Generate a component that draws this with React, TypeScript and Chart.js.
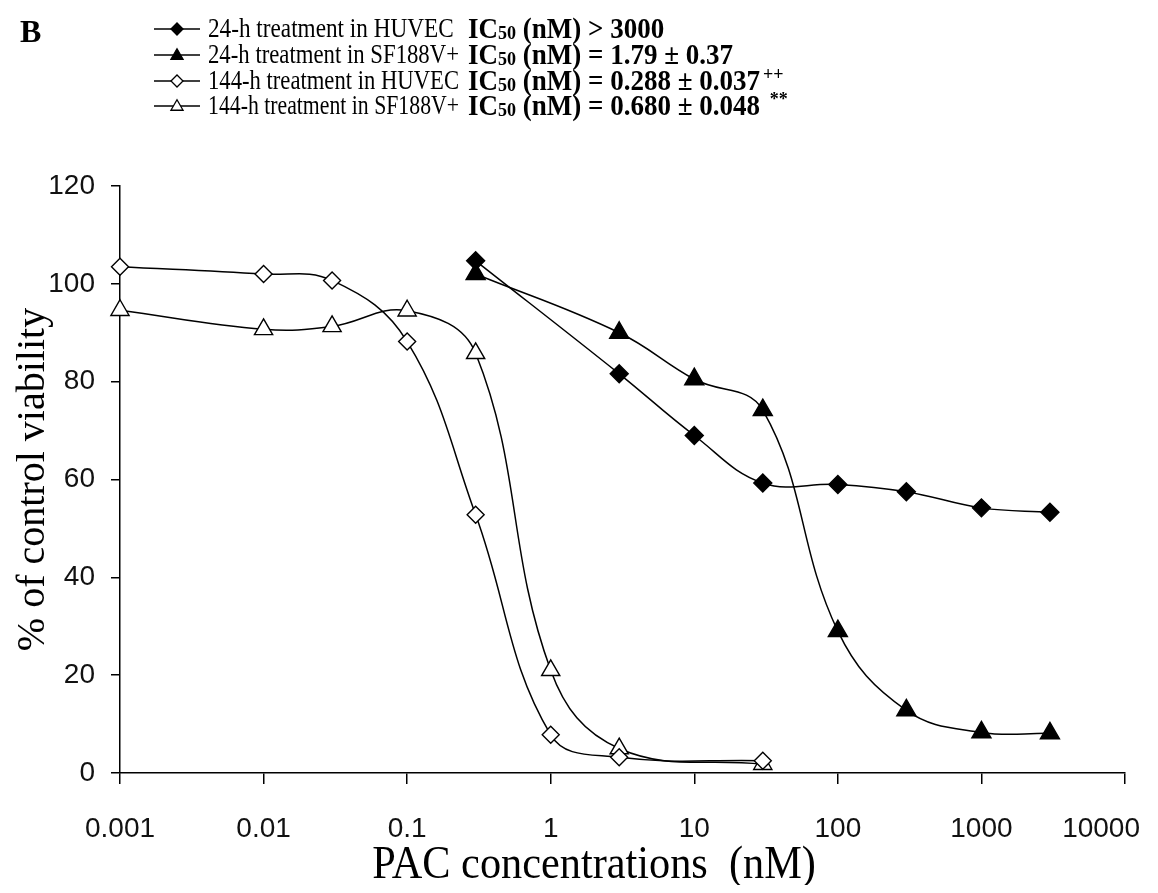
import React, { useEffect, useRef } from 'react';
import { Chart, registerables } from 'chart.js';

Chart.register(...registerables);

// ---- data ----
const conc24h = [0.3, 3, 10, 30, 100, 300, 1000, 3000];
const conc144h = [0.001, 0.01, 0.03, 0.1, 0.3, 1, 3, 30];
const huvec24h = [104.7, 81.6, 69, 59.3, 59, 57.5, 54.2, 53.3];
const sf188_24h = [102, 90, 80.5, 74.2, 29, 12.8, 8.3, 8.1];
const huvec144h = [103.5, 102, 100.7, 88.2, 52.8, 7.8, 3.2, 2.5];
const sf188_144h = [94.6, 90.7, 91.3, 94.5, 85.8, 21, 5, 1.8];

const seriesLabels = [
  '24-h treatment in HUVEC',
  '24-h treatment in SF188V+',
  '144-h treatment in HUVEC',
  '144-h treatment in SF188V+',
];
const ic50Texts = [' (nM) > 3000', ' (nM) = 1.79 \u00b1 0.37', ' (nM) = 0.288 \u00b1 0.037', ' (nM) = 0.680 \u00b1 0.048 '];
const ic50Marks = ['', '', '++', '**'];

const xTickValues = [0.001, 0.01, 0.1, 1, 10, 100, 1000, 10000];
const xTickLabels = ['0.001', '0.01', '0.1', '1', '10', '100', '1000', '10000'];
const yMin = 0;
const yMax = 120;
const yStep = 20;

const panelLabel = 'B';
const xTitle = 'PAC concentrations  (nM)';
const yTitle = '% of control viability';

const SERIF = '"Liberation Serif", "Times New Roman", serif';
const SANS = '"Liberation Sans", Arial, sans-serif';

type Marker = { style: 'diamond' | 'triangle'; filled: boolean };
const markers: Marker[] = [
  { style: 'diamond', filled: true },
  { style: 'triangle', filled: true },
  { style: 'diamond', filled: false },
  { style: 'triangle', filled: false },
];

function drawMarker(ctx: CanvasRenderingContext2D, m: Marker, x: number, y: number, r: number) {
  ctx.beginPath();
  if (m.style === 'diamond') {
    ctx.moveTo(x - r, y);
    ctx.lineTo(x, y - r);
    ctx.lineTo(x + r, y);
    ctx.lineTo(x, y + r);
  } else {
    const h = r * 1.5;
    const w = r * 1.732;
    ctx.moveTo(x, y - h / 2 - 1);
    ctx.lineTo(x + w / 2, y + h / 2 - 1);
    ctx.lineTo(x - w / 2, y + h / 2 - 1);
  }
  ctx.closePath();
  ctx.fillStyle = m.filled ? '#000' : '#fff';
  ctx.fill();
  ctx.lineWidth = 1.3;
  ctx.strokeStyle = '#000';
  ctx.stroke();
}

// draws text horizontally condensed by sx, returns advanced width
function drawText(ctx: CanvasRenderingContext2D, text: string, x: number, y: number, font: string, sx: number) {
  ctx.save();
  ctx.font = font;
  ctx.translate(x, y);
  ctx.scale(sx, 1);
  ctx.fillText(text, 0, 0);
  const w = ctx.measureText(text).width * sx;
  ctx.restore();
  return w;
}

const overlayPlugin = {
  id: 'overlay',
  afterDraw(chart: any) {
    const ctx: CanvasRenderingContext2D = chart.ctx;
    ctx.save();
    ctx.fillStyle = '#000';
    ctx.textBaseline = 'middle';
    ctx.textAlign = 'left';

    // panel label
    drawText(ctx, panelLabel, 12, 26, `bold 32px ${SERIF}`, 1);

    // legend
    const rowY = [21, 47, 73, 98];
    const legendFont = `27px ${SERIF}`;
    seriesLabels.forEach((lab, i) => {
      const y = rowY[i];
      ctx.beginPath();
      ctx.moveTo(146, y);
      ctx.lineTo(192, y);
      ctx.lineWidth = 1.5;
      ctx.strokeStyle = '#000';
      ctx.stroke();
      drawMarker(ctx, markers[i], 169, y, markers[i].style === 'diamond' ? 6 : 7);
      ctx.fillStyle = '#000';
      ctx.font = legendFont;
      const natural = ctx.measureText(lab).width;
      const sx = Math.min(0.86, 251 / natural);
      drawText(ctx, lab, 200, y + 1, legendFont, sx);

      // IC50 text
      let x = 460;
      x += drawText(ctx, 'IC', x, y + 1, `bold 30px ${SERIF}`, 0.9);
      x += drawText(ctx, '50', x, y + 5, `bold 19px ${SERIF}`, 0.95);
      x += drawText(ctx, ic50Texts[i], x, y + 1, `bold 30px ${SERIF}`, 0.9);
      if (ic50Marks[i]) {
        drawText(ctx, ic50Marks[i], x + 3, y - 6, `bold 18px ${SERIF}`, 1);
      }
    });

    // x tick labels, kept inside the canvas
    const xs = chart.scales.x;
    ctx.textAlign = 'center';
    ctx.fillStyle = '#111';
    const font = `28px ${SANS}`;
    xTickValues.forEach((v, i) => {
      ctx.font = font;
      const w = ctx.measureText(xTickLabels[i]).width;
      let px = xs.getPixelForValue(v);
      px = Math.min(px, chart.width - 10 - w / 2);
      drawText(ctx, xTickLabels[i], px, 821, font, 1);
    });

    // x axis title
    ctx.fillStyle = '#000';
    ctx.textAlign = 'center';
    ctx.textBaseline = 'alphabetic';
    drawText(ctx, xTitle, 586, 870, `47px ${SERIF}`, 0.9);
    ctx.restore();
  },
};

function toPoints(xs: number[], ys: number[]) {
  return xs.map((x, i) => ({ x, y: ys[i] }));
}

export default function App() {
  const canvasRef = useRef<HTMLCanvasElement | null>(null);

  useEffect(() => {
    if (!canvasRef.current) return;
    const common = {
      borderColor: '#000',
      borderWidth: 1.5,
      tension: 0.4,
      pointBorderColor: '#000',
      pointBorderWidth: 1.4,
      clip: false as any,
      fill: false,
    };
    const chart = new Chart(canvasRef.current, {
      type: 'line',
      data: {
        datasets: [
          {
            ...common,
            label: seriesLabels[0],
            data: toPoints(conc24h, huvec24h),
            pointStyle: 'rectRot',
            pointRadius: 9,
            pointBackgroundColor: '#000',
          },
          {
            ...common,
            label: seriesLabels[1],
            data: toPoints(conc24h, sf188_24h),
            pointStyle: 'triangle',
            pointRadius: 11,
            pointBackgroundColor: '#000',
          },
          {
            ...common,
            label: seriesLabels[2],
            data: toPoints(conc144h, huvec144h),
            pointStyle: 'rectRot',
            pointRadius: 8.5,
            pointBackgroundColor: '#fff',
          },
          {
            ...common,
            label: seriesLabels[3],
            data: toPoints(conc144h, sf188_144h),
            pointStyle: 'triangle',
            pointRadius: 10.5,
            pointBackgroundColor: '#fff',
          },
        ],
      },
      options: {
        responsive: false,
        animation: false,
        events: [],
        layout: { padding: { top: 178, right: 25, left: 0, bottom: 0 } },
        plugins: {
          legend: { display: false },
          tooltip: { enabled: false },
          title: { display: false },
        },
        scales: {
          x: {
            type: 'logarithmic',
            min: 0.001,
            max: 10000,
            afterBuildTicks: (scale: any) => {
              scale.ticks = xTickValues.map((v) => ({ value: v }));
            },
            afterFit: (scale: any) => {
              scale.height = 112;
            },
            ticks: { display: false },
            grid: {
              drawOnChartArea: false,
              drawTicks: true,
              tickLength: 11,
              color: '#000',
              lineWidth: 1.5,
            },
            border: { display: true, color: '#000', width: 1.5 },
            title: { display: false, text: xTitle },
          },
          y: {
            type: 'linear',
            min: yMin,
            max: yMax,
            afterFit: (scale: any) => {
              scale.width = 112;
            },
            ticks: {
              stepSize: yStep,
              color: '#111',
              padding: 16,
              font: { family: SANS, size: 28 },
            },
            grid: {
              drawOnChartArea: false,
              drawTicks: true,
              tickLength: 9,
              color: '#000',
              lineWidth: 1.5,
            },
            border: { display: true, color: '#000', width: 1.5 },
            title: {
              display: true,
              text: yTitle,
              color: '#000',
              font: { family: SERIF, size: 40, lineHeight: 1 },
              padding: { top: 5, bottom: 0 },
            },
          },
        },
      },
      plugins: [overlayPlugin],
    } as any);
    return () => chart.destroy();
  }, []);

  return (
    <div style={{ width: 1142, height: 877, background: '#fff' }}>
      <canvas ref={canvasRef} width={1142} height={877} />
    </div>
  );
}
